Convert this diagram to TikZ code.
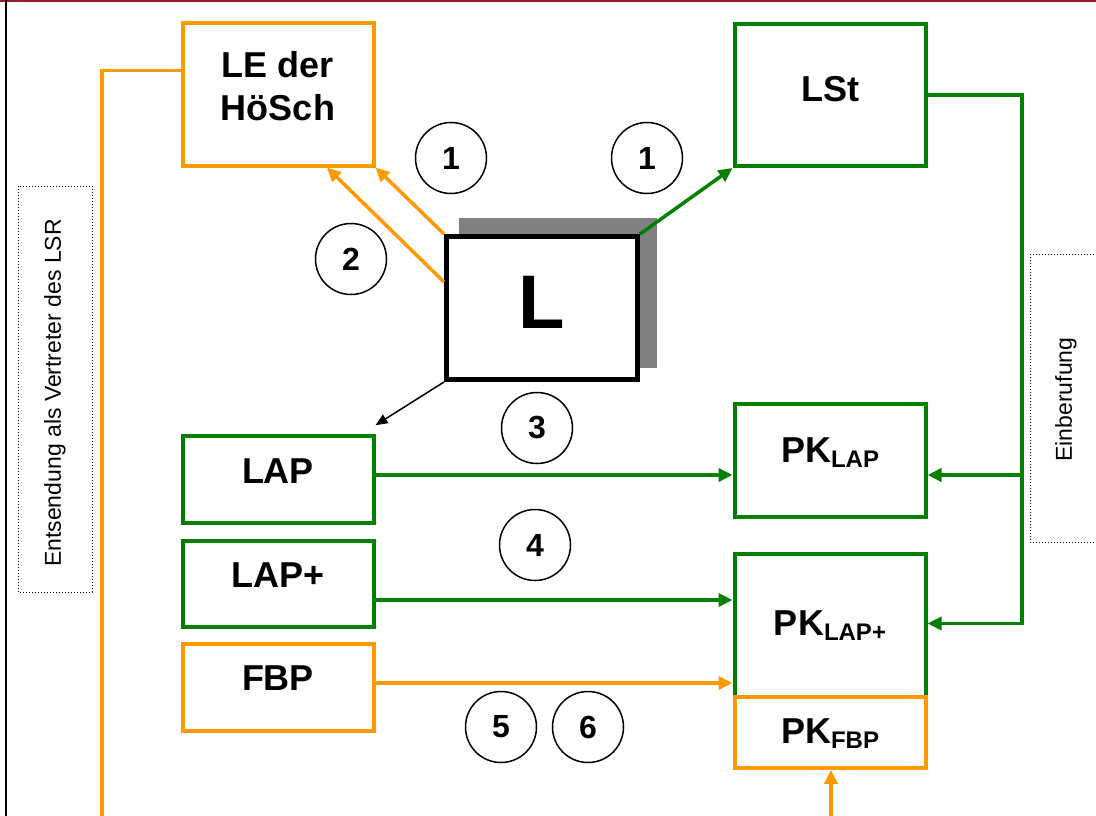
\documentclass[tikz,border=0pt]{standalone}
\usepackage{fontspec}
\setmainfont{Liberation Sans}
\usetikzlibrary{arrows.meta}
\usetikzlibrary{positioning}
\definecolor{hoorange}{RGB}{255,153,0}
\definecolor{hogreen}{RGB}{0,128,0}
\definecolor{topbar}{RGB}{150,30,50}
\tikzset{>={Triangle[length=14pt,width=13pt]}}
\tikzset{tbox/.style = {shape=rectangle,draw,line width=4pt,minimum width=191pt,inner sep=2pt,align=center,font=\bfseries\fontsize{36}{43}\selectfont,text depth=18pt}}
\tikzset{gbox/.style = {tbox,draw=hogreen}}
\tikzset{obox/.style = {tbox,draw=hoorange}}
\tikzset{numc/.style = {shape=circle,draw,line width=1.5pt,minimum size=71pt,inner sep=0pt,font=\bfseries\fontsize{32}{32}\selectfont}}
\tikzset{gline/.style = {draw=hogreen,line width=3.5pt}}
\tikzset{oline/.style = {draw=hoorange,line width=3.5pt}}
\tikzset{dotbox/.style = {draw,dotted,line width=1pt}}
\tikzset{vtext/.style = {rotate=90,inner sep=0pt,font=\fontsize{23}{23}\selectfont}}
\newcommand{\pksub}[1]{PK\raisebox{-5pt}{\fontsize{24}{24}\selectfont #1}}

\begin{document}
\begin{tikzpicture}[x=1pt,y=-1pt]
                    \useasboundingbox (0,0) rectangle (1096,816);
                    \clip (0,0) rectangle (1096,816);
                    \fill[topbar] (0,0) rectangle (1096,2.5);
                    \draw[line width=2pt] (6,0) -- (6,816);

                    \fill[gray] (459,218) rectangle (657,368);
                    \node[tbox,line width=5pt,fill=white,minimum height=143pt,font=\bfseries\fontsize{76}{76}\selectfont,text depth=12pt] (lbox) at (542,308) {L};

                    \node[obox,minimum height=142pt] (le) at (278,94.5) {LE der\\HöSch};
                    \node[gbox,minimum height=142pt,text depth=13pt] (lst) at (830,95) {LSt};
                    \node[gbox,minimum height=87pt] (lap) at (278,479.7) {LAP};
                    \node[gbox,minimum height=86pt] (lapplus) at (278,584.2) {LAP+};
                    \node[obox,minimum height=87pt] (fbp) at (278,687.2) {FBP};
                    \node[gbox,minimum height=113pt,text depth=20pt] (pklap) at (830,460.3) {\pksub{LAP}};
                    \node[gbox,minimum height=143pt,text depth=3pt] (pklapplus) at (830,625) {\pksub{LAP+}};
                    \node[obox,minimum height=71pt,text depth=3pt] (pkfbp) at (830,732.3) {\pksub{FBP}};

                    \node[numc] (n1a) at (451,158) {1};
                    \node[numc] (n1b) at (647,158) {1};
                    \node[numc] (n2) at (351,259) {2};
                    \node[numc] (n3) at (537,428) {3};
                    \node[numc] (n4) at (535,545) {4};
                    \node[numc] (n5) at (501,727) {5};
                    \node[numc] (n6) at (588,727) {6};

                    \draw[dotbox] (18,186) rectangle (92,592);
                    \node[vtext] (entsendung) at (55,393) {Entsendung als Vertreter des LSR};
                    \draw[dotbox] (1030,254) rectangle (1110,542);
                    \node[vtext] (einberufung) at (1066,399.5) {Einberufung};

                    \coordinate (entsknee) at (102,70.5);
                    \coordinate (entsend) at (102,816);
                    \coordinate (einknee) at (1022,95);
                    \coordinate (einlap) at (1022,475);
                    \coordinate (einplus) at (1022,623.5);
                    \coordinate (lapy) at (0,475);
                    \coordinate (plusy) at (0,600);
                    \coordinate (fbpy) at (0,683);
                    \coordinate (fbpin) at (831,816);

                    \draw[oline] (le.west |- entsknee) -- (entsknee) -- (entsend);
                    \draw[gline,->] (lst.east) -- (einknee) -- (einplus) -- (pklapplus.east |- einplus);
                    \draw[gline,->] (einlap) -- (pklap.east |- einlap);
                    \draw[gline,->] (lap.east |- lapy) -- (pklap.west |- lapy);
                    \draw[gline,->] (lapplus.east |- plusy) -- (pklapplus.west |- plusy);
                    \draw[oline,->] (fbp.east |- fbpy) -- (pklapplus.west |- fbpy);
                    \draw[oline,->] (fbpin) -- (fbpin |- pkfbp.south);

                    \draw[oline,->] (lbox.north west) -- (le.south east);
                    \draw[oline,->] ([yshift=26pt]lbox.west) -- ([xshift=49pt]le.south);
                    \draw[gline,->] (lbox.north east) -- (lst.south west);
                    \draw[line width=1.5pt,-{Triangle[length=12pt,width=10pt]}] (lbox.south west) -- ([yshift=9pt]lap.north east);
\end{tikzpicture}
\end{document}
